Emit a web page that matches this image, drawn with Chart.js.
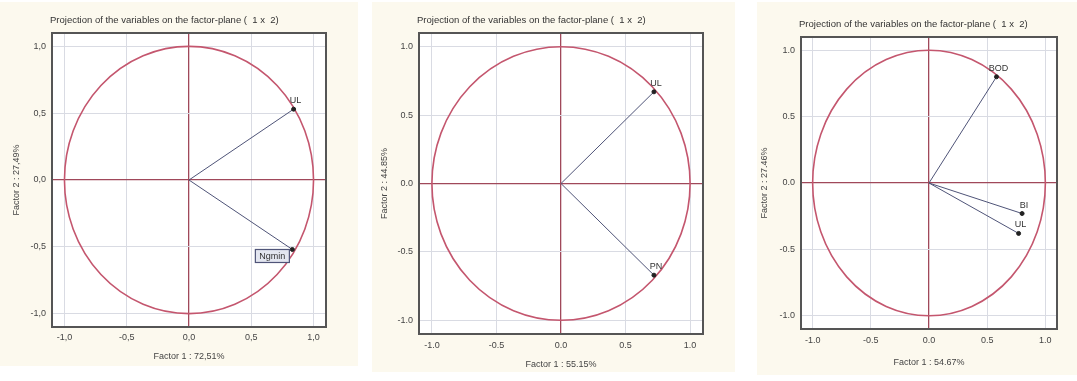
<!DOCTYPE html>
<html>
<head>
<meta charset="utf-8">
<script src="https://cdn.jsdelivr.net/npm/chart.js@4"></script>
<style>
  body { margin: 0; background: #ffffff; width: 1077px; height: 381px; position: relative; overflow: hidden; }
  .panel { position: absolute; background: #fcf9ee; }
</style>
</head>
<body>
<div class="panel" style="left:0px;top:2px;width:358px;height:364px"><canvas id="c1"></canvas></div>
<div class="panel" style="left:372px;top:2px;width:363px;height:370px"><canvas id="c2"></canvas></div>
<div class="panel" style="left:757px;top:2px;width:320px;height:373px"><canvas id="c3"></canvas></div>
<script>
const chartTitle = "Projection of the variables on the factor-plane (  1 x  2)";
const tickValues = [-1, -0.5, 0, 0.5, 1];
const circleRadius = 1;

// panel 1
const vars1 = ["UL", "Ngmin"];
const f1a = [0.84, 0.83];
const f2a = [0.53, -0.52];
const xTitle1 = "Factor 1 : 72,51%";
const yTitle1 = "Factor 2 : 27,49%";

// panel 2
const vars2 = ["UL", "PN"];
const f1b = [0.72, 0.72];
const f2b = [0.67, -0.67];
const xTitle2 = "Factor 1 : 55.15%";
const yTitle2 = "Factor 2 : 44.85%";

// panel 3
const vars3 = ["BOD", "BI", "UL"];
const f1c = [0.58, 0.80, 0.77];
const f2c = [0.80, -0.23, -0.38];
const xTitle3 = "Factor 1 : 54.67%";
const yTitle3 = "Factor 2 : 27.46%";

const FONT = "'Liberation Sans', Arial, sans-serif";
const vecColor = "#4f5478";
const circleColor = "#c4566e";
const zeroColor = "#a0485a";
const gridColor = "#d9dbe3";

// circle, white plot area, frame, labels, title
const factorPlane = {
  id: "factorPlane",
  beforeDraw(chart) {
    const a = chart.chartArea, ctx = chart.ctx;
    ctx.save();
    ctx.fillStyle = "#ffffff";
    ctx.fillRect(a.left, a.top, a.right - a.left, a.bottom - a.top);
    ctx.restore();
  },
  beforeDatasetsDraw(chart) {
    const x = chart.scales.x, y = chart.scales.y, ctx = chart.ctx;
    const cx = x.getPixelForValue(0), cy = y.getPixelForValue(0);
    const rx = x.getPixelForValue(circleRadius) - cx;
    const ry = cy - y.getPixelForValue(circleRadius);
    ctx.save();
    ctx.strokeStyle = circleColor;
    ctx.lineWidth = 1.6;
    ctx.beginPath();
    ctx.ellipse(cx, cy, rx, ry, 0, 0, Math.PI * 2);
    ctx.stroke();
    ctx.restore();
  },
  afterDatasetsDraw(chart, args, opts) {
    const ctx = chart.ctx, a = chart.chartArea;
    ctx.save();
    ctx.font = "9px " + FONT;
    ctx.fillStyle = "#333";
    chart.data.datasets.forEach((ds) => {
      const p = ds.data[1];
      const px = chart.scales.x.getPixelForValue(p.x);
      const py = chart.scales.y.getPixelForValue(p.y);
      if (opts.boxed && opts.boxed.includes(ds.label)) {
        const w = ctx.measureText(ds.label).width + 8;
        ctx.fillStyle = "#e3e6f0";
        ctx.fillRect(px - w - 3, py, w, 13);
        ctx.strokeStyle = "#4f5478";
        ctx.lineWidth = 1.2;
        ctx.strokeRect(px - w - 3, py, w, 13);
        ctx.fillStyle = "#333";
        ctx.textAlign = "center";
        ctx.textBaseline = "middle";
        ctx.fillText(ds.label, px - w / 2 - 3, py + 7);
        ctx.fillStyle = "#333";
      } else {
        ctx.textAlign = "center";
        ctx.textBaseline = "bottom";
        ctx.fillText(ds.label, px + 2, py - 4);
      }
    });
    // frame
    ctx.strokeStyle = "#555";
    ctx.lineWidth = 2;
    ctx.strokeRect(a.left, a.top, a.right - a.left, a.bottom - a.top);
    // title
    ctx.fillStyle = "#333";
    ctx.font = "9.5px " + FONT;
    ctx.textAlign = "left";
    ctx.textBaseline = "middle";
    ctx.fillText(chartTitle, a.left - 2, a.top - 13);
    ctx.restore();
  }
};

function makeChart(id, names, xs, ys, cfg) {
  const fmt = (v) => {
    const s = v.toFixed(1);
    return cfg.comma ? s.replace(".", ",") : s;
  };
  const datasets = names.map((n, i) => ({
    label: n,
    data: [{ x: 0, y: 0 }, { x: xs[i], y: ys[i] }],
    showLine: true,
    borderColor: vecColor,
    borderWidth: 1,
    pointRadius: [0, 2],
    pointBackgroundColor: "#222",
    pointBorderColor: "#222"
  }));
  const gridOpts = {
    color: (c) => (c.tick && c.tick.value === 0 ? zeroColor : gridColor),
    lineWidth: (c) => (c.tick && c.tick.value === 0 ? 1.3 : 1),
    drawTicks: false
  };
  const tickFont = { family: FONT, size: 9 };
  return new Chart(document.getElementById(id), {
    type: "scatter",
    data: { datasets },
    options: {
      responsive: true,
      maintainAspectRatio: false,
      animation: false,
      layout: { padding: cfg.padding },
      plugins: {
        legend: { display: false },
        tooltip: { enabled: false },
        factorPlane: { boxed: cfg.boxed || [] }
      },
      scales: {
        x: {
          type: "linear",
          min: -1.1,
          max: 1.1,
          afterBuildTicks: (s) => { s.ticks = tickValues.map((v) => ({ value: v })); },
          afterFit: (s) => { s.height = cfg.xHeight; },
          grid: gridOpts,
          border: { display: false },
          ticks: { callback: (v) => fmt(v), font: tickFont, color: "#444", padding: cfg.xTickPad, maxRotation: 0 },
          title: { display: true, text: cfg.xTitle, font: tickFont, color: "#444", padding: { top: 0, bottom: cfg.xTitlePad } }
        },
        y: {
          type: "linear",
          min: -1.1,
          max: 1.1,
          afterBuildTicks: (s) => { s.ticks = tickValues.map((v) => ({ value: v })); },
          afterFit: (s) => { s.width = cfg.yWidth; },
          grid: gridOpts,
          border: { display: false },
          ticks: { callback: (v) => fmt(v), font: tickFont, color: "#444", padding: 6 },
          title: { display: true, text: cfg.yTitle, font: tickFont, color: "#444", padding: { top: cfg.yTitlePad, bottom: 0 } }
        }
      }
    },
    plugins: [factorPlane]
  });
}

makeChart("c1", vars1, f1a, f2a, {
  comma: true, boxed: ["Ngmin"],
  padding: { top: 31, right: 32, bottom: 0, left: 0 },
  xHeight: 39, yWidth: 52, xTickPad: 5, xTitlePad: 4, yTitlePad: 11,
  xTitle: xTitle1, yTitle: yTitle1
});
makeChart("c2", vars2, f1b, f2b, {
  comma: false,
  padding: { top: 31, right: 32, bottom: 0, left: 0 },
  xHeight: 38, yWidth: 47, xTickPad: 6, xTitlePad: 2, yTitlePad: 7,
  xTitle: xTitle2, yTitle: yTitle2
});
makeChart("c3", vars3, f1c, f2c, {
  comma: false,
  padding: { top: 35, right: 20, bottom: 0, left: 0 },
  xHeight: 46, yWidth: 44, xTickPad: 6, xTitlePad: 7, yTitlePad: 2,
  xTitle: xTitle3, yTitle: yTitle3
});
</script>
</body>
</html>
